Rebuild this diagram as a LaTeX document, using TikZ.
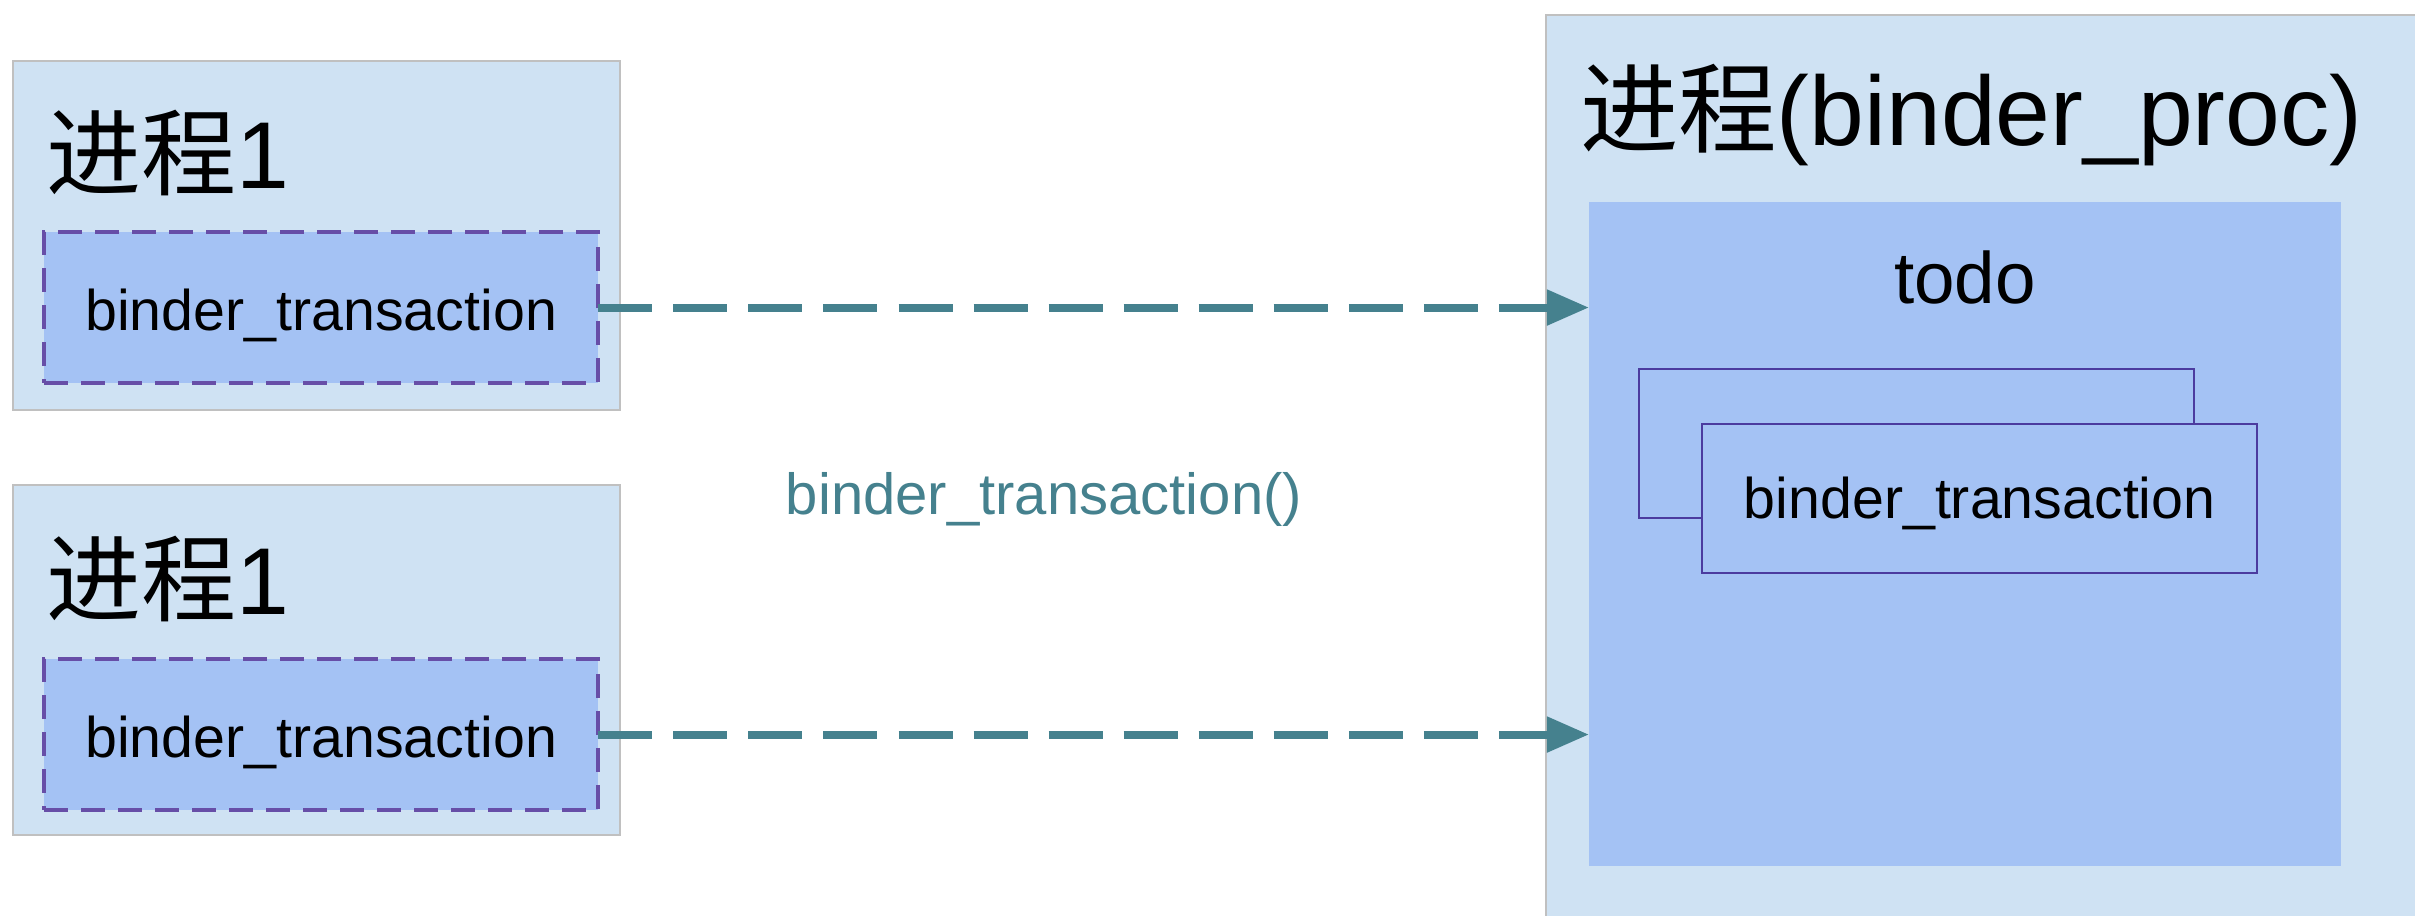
\documentclass[tikz,border=0pt]{standalone}
\usepackage{fontspec}
\setmainfont{Liberation Sans}
\newfontfamily\cjk{Noto Sans CJK SC}
\usetikzlibrary{arrows.meta,positioning}
\definecolor{color_proc}{HTML}{CFE2F3}
\definecolor{color_call}{HTML}{A4C2F4}
\definecolor{color_dash}{HTML}{674EA7}
\definecolor{color_item}{HTML}{4B3B9F}
\definecolor{color_frame}{HTML}{C0C0C0}
\definecolor{color_link}{HTML}{45818E}

\begin{document}
\begin{tikzpicture}[
    x=0.01cm, y=-0.01cm,
    every node/.style={inner sep=0pt, outer sep=0pt},
    procbox/.style={draw=color_frame, line width=0.02cm, fill=color_proc, anchor=north west},
    callbox/.style={draw=color_dash, fill=color_call, line width=0.04cm,
        dash pattern=on 0.24cm off 0.13cm, anchor=north west,
        minimum width=5.54cm, minimum height=1.51cm, text height=0.55cm, text depth=0.10cm,
        font=\fontsize{16.3}{19}\selectfont},
    itembox/.style={draw=color_item, fill=color_call, line width=0.02cm, anchor=north west,
        minimum width=5.55cm, minimum height=1.49cm, text height=0.50cm, text depth=0.10cm,
        font=\fontsize{16.3}{19}\selectfont},
    proctitle/.style={anchor=base west, font=\fontsize{27}{32}\selectfont},
    linkarrow/.style={color_link, line width=0.08cm, dash pattern=on 0.54cm off 0.21cm,
        -{Triangle[length=0.42cm,width=0.34cm]}}
]
    % picture is 2415 x 915 units, y grows downwards
    \useasboundingbox (0,0) rectangle (2415,915);
    \clip (0,0) rectangle (2415,915);

    % two client processes
    \node[procbox, minimum width=6.07cm, minimum height=3.49cm] (proca) at (13,61) {};
    \node[procbox, minimum width=6.07cm, minimum height=3.50cm] (procb) at (13,485) {};
    \node[proctitle] (titlea) at (47,188) {{\cjk 进程}1};
    \node[proctitle] (titleb) at (47,614) {{\cjk 进程}1};
    \node[callbox] (calla) at (44,232) {binder\_transaction};
    \node[callbox] (callb) at (44,659) {binder\_transaction};

    % target process, runs past the right and bottom edges
    \node[procbox, minimum width=9.0cm, minimum height=9.2cm] (server) at (1546,15) {};
    \node[proctitle, font=\fontsize{28}{32}\selectfont] (servertitle) at (1580,145) {{\cjk 进程}(binder\_proc)};

    % todo list
    \node[fill=color_call, anchor=north west, minimum width=7.52cm, minimum height=6.64cm] (todo) at (1589,202) {};
    \node[anchor=base, font=\fontsize{20.7}{24}\selectfont] (todolabel) at (1965,303) {todo};
    \node[itembox] (itemback) at (1639,369) {};
    \node[itembox] (itemfront) at (1702,424) {binder\_transaction};

    % calls
    \draw[linkarrow] (calla.east) -- (calla.east -| todo.west);
    \draw[linkarrow] (callb.east) -- (callb.east -| todo.west);
    \node[anchor=base, text=color_link, font=\fontsize{16.5}{19}\selectfont] (calllabel) at (1044,514) {binder\_transaction()};

\end{tikzpicture}
\end{document}
